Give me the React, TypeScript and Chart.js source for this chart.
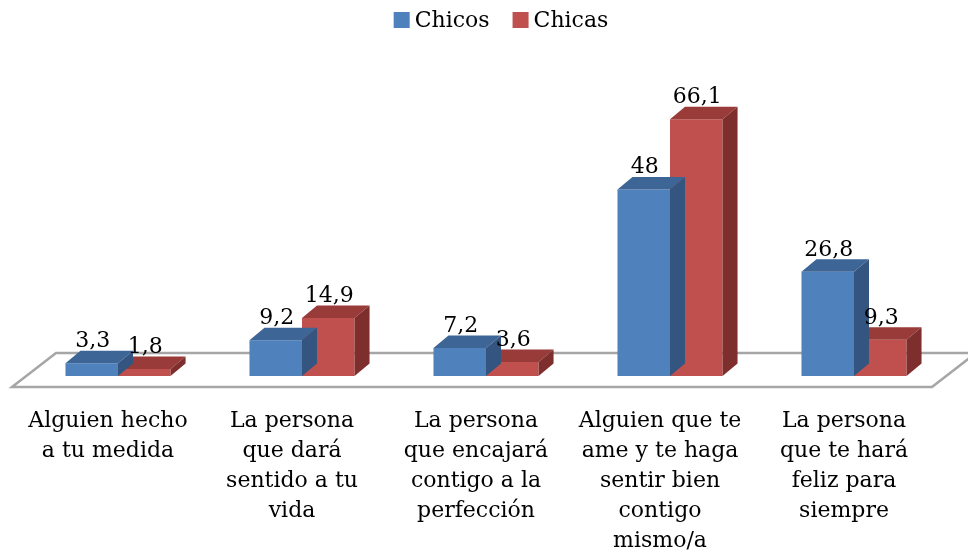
import React, { useEffect, useRef } from 'react';
import { Chart, registerables } from 'chart.js';

Chart.register(...registerables);

const categories: string[][] = [
  ['Alguien hecho', 'a tu medida'],
  ['La persona', 'que dará', 'sentido a tu', 'vida'],
  ['La persona', 'que encajará', 'contigo a la', 'perfección'],
  ['Alguien que te', 'ame y te haga', 'sentir bien', 'contigo', 'mismo/a'],
  ['La persona', 'que te hará', 'feliz para', 'siempre'],
];
const seriesNames = ['Chicos', 'Chicas'];
const chicos = [3.3, 9.2, 7.2, 48, 26.8];
const chicas = [1.8, 14.9, 3.6, 66.1, 9.3];
const yMax = 70;

const FONT_FAMILY = "'DejaVu Serif', serif";
const FONT_SIZE = 22;
const DEPTH_X = 15;
const DEPTH_Y = 12.5;
const FRONT = ['#4F81BD', '#C0504D'];
const TOP = ['#3D6596', '#983B39'];
const SIDE = ['#34557F', '#7E2F2D'];

const fmt = (v: number) => String(v).replace('.', ',');

const threeD = {
  id: 'threeD',
  beforeDatasetsDraw(chart: any) {
    const { ctx, chartArea: a } = chart;
    ctx.save();
    ctx.beginPath();
    ctx.moveTo(a.left - 14, a.bottom + 11);
    ctx.lineTo(a.right - 14, a.bottom + 11);
    ctx.lineTo(a.right + 30, a.bottom - 23);
    ctx.lineTo(a.left + 30, a.bottom - 23);
    ctx.closePath();
    ctx.fillStyle = '#ffffff';
    ctx.fill();
    ctx.strokeStyle = '#A6A6A6';
    ctx.lineWidth = 2.5;
    ctx.lineJoin = 'miter';
    ctx.stroke();
    ctx.restore();
  },
  afterDatasetDraw(chart: any, args: any) {
    const { ctx } = chart;
    const i = args.index;
    ctx.save();
    args.meta.data.forEach((bar: any) => {
      const { x, y, base, width } = bar.getProps(['x', 'y', 'base', 'width'], true);
      const x0 = x - width / 2;
      const x1 = x + width / 2;
      // top face
      ctx.beginPath();
      ctx.moveTo(x0, y);
      ctx.lineTo(x1, y);
      ctx.lineTo(x1 + DEPTH_X, y - DEPTH_Y);
      ctx.lineTo(x0 + DEPTH_X, y - DEPTH_Y);
      ctx.closePath();
      ctx.fillStyle = TOP[i];
      ctx.fill();
      // side face
      ctx.beginPath();
      ctx.moveTo(x1, y);
      ctx.lineTo(x1 + DEPTH_X, y - DEPTH_Y);
      ctx.lineTo(x1 + DEPTH_X, base - DEPTH_Y);
      ctx.lineTo(x1, base);
      ctx.closePath();
      ctx.fillStyle = SIDE[i];
      ctx.fill();
    });
    ctx.restore();
  },
  afterDatasetsDraw(chart: any) {
    const { ctx } = chart;
    ctx.save();
    ctx.font = `${FONT_SIZE}px ${FONT_FAMILY}`;
    ctx.fillStyle = '#000';
    ctx.textAlign = 'center';
    ctx.textBaseline = 'alphabetic';
    chart.data.datasets.forEach((ds: any, di: number) => {
      const meta = chart.getDatasetMeta(di);
      meta.data.forEach((bar: any, j: number) => {
        const { x, y } = bar.getProps(['x', 'y'], true);
        ctx.fillText(fmt(ds.data[j]), x + 1, y - 16);
      });
    });
    ctx.restore();
  },
  afterDraw(chart: any) {
    const { ctx } = chart;
    ctx.save();
    ctx.font = `${FONT_SIZE}px ${FONT_FAMILY}`;
    ctx.textBaseline = 'middle';
    ctx.textAlign = 'left';
    const box = 16;
    const gapBoxText = 5;
    const gapItems = 23;
    const items = chart.data.datasets.map((ds: any) => ({
      label: ds.label,
      color: ds.backgroundColor,
      w: ctx.measureText(ds.label).width,
    }));
    const total = items.reduce((s: number, it: any) => s + box + gapBoxText + it.w, 0) + gapItems * (items.length - 1);
    let x = 501 - total / 2;
    const cy = 21;
    items.forEach((it: any) => {
      ctx.fillStyle = it.color;
      ctx.fillRect(x, cy - box / 2 - 1, box, box);
      x += box + gapBoxText;
      ctx.fillStyle = '#000';
      ctx.fillText(it.label, x, cy);
      x += it.w + gapItems;
    });
    ctx.restore();
  },
};

export default function App() {
  const ref = useRef<HTMLCanvasElement | null>(null);
  useEffect(() => {
    document.body.style.margin = '0';
    const canvas = ref.current;
    if (!canvas) return;
    const chart = new Chart(canvas, {
      type: 'bar',
      data: {
        labels: categories,
        datasets: [
          { label: seriesNames[0], data: chicos, backgroundColor: FRONT[0], borderWidth: 0 },
          { label: seriesNames[1], data: chicas, backgroundColor: FRONT[1], borderWidth: 0 },
        ],
      },
      options: {
        responsive: false,
        animation: false,
        events: [],
        layout: { padding: { left: 26, right: 22, top: 104, bottom: 0 } },
        datasets: { bar: { categoryPercentage: 0.571, barPercentage: 1 } },
        plugins: {
          legend: { display: false },
          tooltip: { enabled: false },
        },
        scales: {
          x: {
            display: true,
            grid: { display: false, drawTicks: false },
            border: { display: false },
            ticks: {
              autoSkip: false,
              maxRotation: 0,
              minRotation: 0,
              padding: 30,
              labelOffset: -10,
              color: '#000',
              font: { family: FONT_FAMILY, size: FONT_SIZE, lineHeight: '30px' },
            },
            afterFit(scale: any) {
              scale.height = 182;
            },
          },
          y: {
            display: false,
            min: 0,
            max: yMax,
          },
        },
      },
      plugins: [threeD],
    } as any);
    return () => chart.destroy();
  }, []);
  return (
    <div style={{ width: 968, height: 558, background: '#fff' }}>
      <canvas ref={ref} width={968} height={558} style={{ display: 'block' }} />
    </div>
  );
}
